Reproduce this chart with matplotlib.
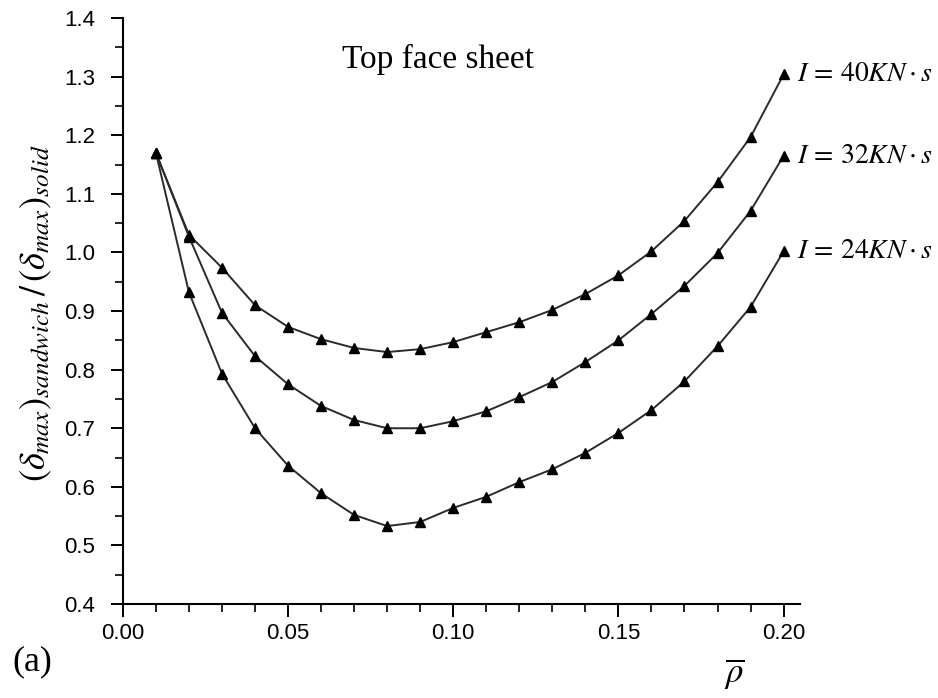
import matplotlib
matplotlib.use("Agg")
import matplotlib.pyplot as plt
from matplotlib.ticker import MultipleLocator, FormatStrFormatter

rho = [0.01, 0.02, 0.03, 0.04, 0.05, 0.06, 0.07, 0.08, 0.09, 0.10,
       0.11, 0.12, 0.13, 0.14, 0.15, 0.16, 0.17, 0.18, 0.19, 0.20]
I40 = [1.170, 1.030, 0.974, 0.910, 0.873, 0.852, 0.837, 0.830, 0.835, 0.847,
       0.864, 0.881, 0.902, 0.929, 0.961, 1.002, 1.054, 1.120, 1.197, 1.304]
I32 = [1.170, 1.027, 0.897, 0.823, 0.775, 0.738, 0.714, 0.700, 0.700, 0.712,
       0.729, 0.753, 0.779, 0.813, 0.850, 0.895, 0.943, 0.999, 1.071, 1.165]
I24 = [1.170, 0.932, 0.793, 0.700, 0.636, 0.589, 0.552, 0.533, 0.540, 0.564,
       0.583, 0.608, 0.630, 0.658, 0.692, 0.731, 0.780, 0.840, 0.907, 1.002]
series_labels = [r'$I\,=\,40KN\cdot s$', r'$I\,=\,32KN\cdot s$', r'$I\,=\,24KN\cdot s$']

plt.rcParams['mathtext.fontset'] = 'stix'
plt.rcParams['font.family'] = ['Liberation Sans', 'DejaVu Sans']

fig = plt.figure(figsize=(9.38, 6.98), dpi=100)
ax = fig.add_axes([0.131, 0.1347, 0.722, 0.8393])

for ys, lab in zip([I40, I32, I24], series_labels):
    ax.plot(rho, ys, color='#2a2a2a', lw=1.4, marker='^', ms=7,
            mfc='black', mec='black', clip_on=False)
    ax.annotate(lab, xy=(rho[-1], ys[-1]), xytext=(10, 0),
                textcoords='offset points', va='center', ha='left',
                fontsize=20, annotation_clip=False)

ax.set_xlim(0, 0.205)
ax.set_ylim(0.4, 1.4)
ax.xaxis.set_major_locator(MultipleLocator(0.05))
ax.xaxis.set_minor_locator(MultipleLocator(0.01))
ax.yaxis.set_major_locator(MultipleLocator(0.1))
ax.yaxis.set_minor_locator(MultipleLocator(0.05))
ax.xaxis.set_major_formatter(FormatStrFormatter('%.2f'))
ax.yaxis.set_major_formatter(FormatStrFormatter('%.1f'))
for s in ['top', 'right']:
    ax.spines[s].set_visible(False)
for s in ['left', 'bottom']:
    ax.spines[s].set_linewidth(1.5)
ax.tick_params(which='major', direction='out', length=9, width=1.4, labelsize=16)
ax.tick_params(axis='y', which='major', pad=11)
ax.tick_params(axis='x', which='major', pad=5)
ax.tick_params(which='minor', direction='out', length=5.5, width=1.2)

fig.text(36 / 938, 1 - 313 / 698,
         r'$(\delta_{max})_{sandwich}\,/\,(\delta_{max})_{solid}$',
         fontsize=26, rotation=90, ha='center', va='center')
fig.text(0.783, 0.035, r'$\overline{\rho}$', fontsize=25, ha='center', va='center')
fig.text(12 / 938, 0.052, '(a)', fontsize=26, family=['Liberation Serif'], ha='left', va='center')
ax.text(0.0955, 1.33, 'Top face sheet', fontsize=24, family=['Liberation Serif'], ha='center', va='center')

fig.savefig('out.png', dpi=100)
